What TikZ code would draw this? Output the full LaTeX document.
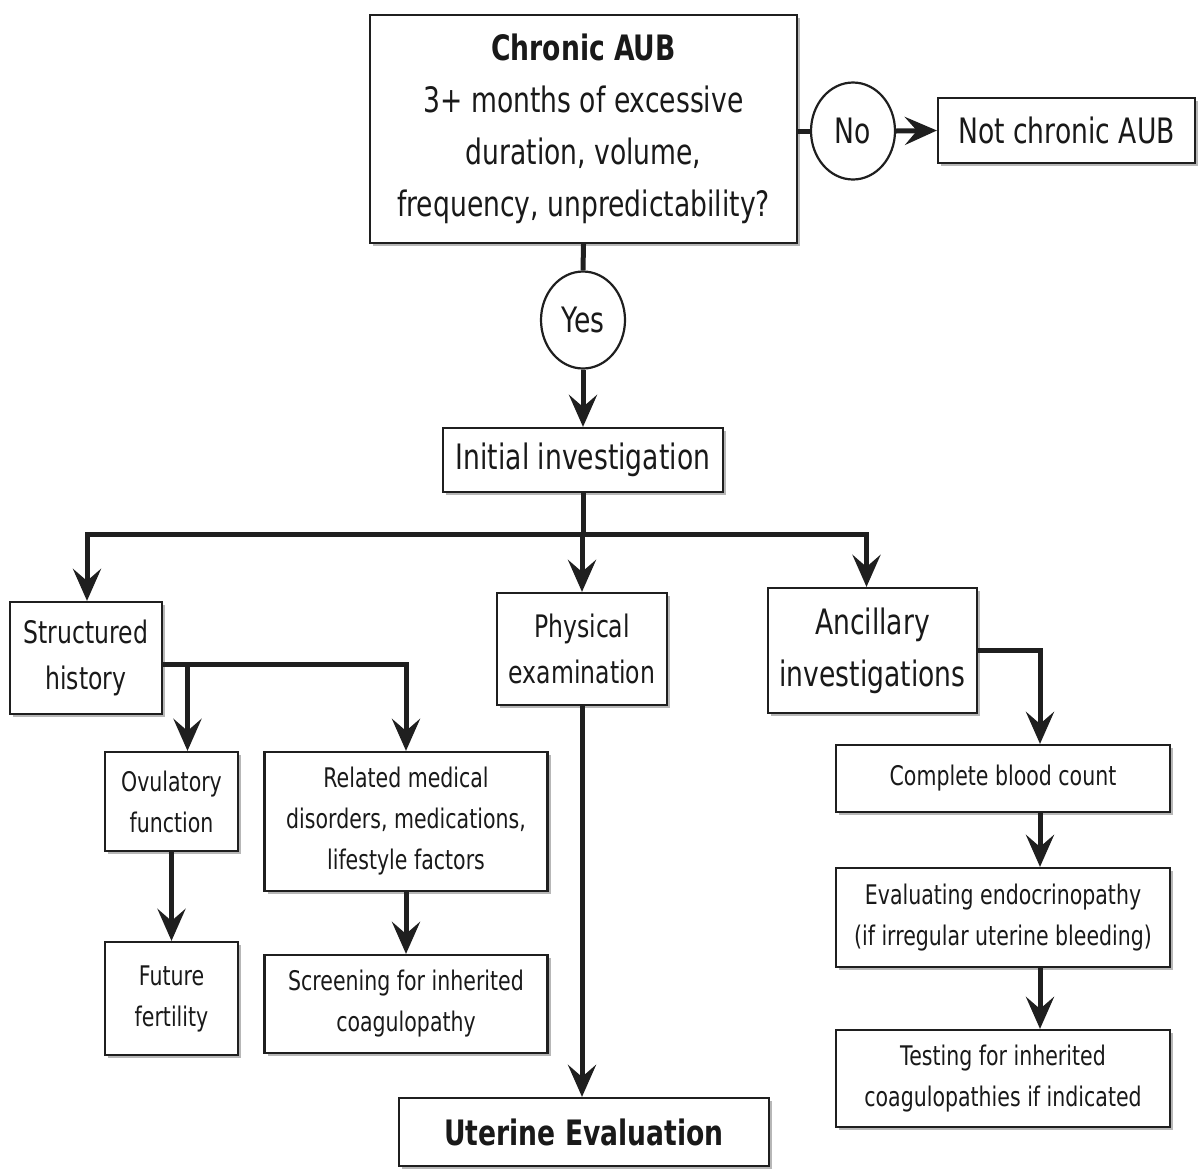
\documentclass[tikz,border=0pt]{standalone}
\usepackage{fontspec}
\setmainfont[FakeStretch=0.76]{DejaVu Sans}
\usetikzlibrary{positioning,shapes.geometric,shadows,arrows.meta}

\tikzset{
  box/.style={draw=black!88, line width=2.2pt, fill=white, align=center, inner sep=0pt, text=black!90,
    drop shadow={shadow xshift=3pt, shadow yshift=-3pt, opacity=0.4, fill=black!70}},
  oval/.style={ellipse, draw=black!88, line width=2.2pt, fill=white, inner sep=0pt, text=black!90,
    minimum width=84pt, minimum height=97pt},
  bigtxt/.style={font=\fontsize{35}{52}\selectfont},
  midtxt/.style={font=\fontsize{31}{46}\selectfont},
  smalltxt/.style={font=\fontsize{27}{41}\selectfont},
  link/.style={line width=5pt, draw=black!88},
  flow/.style={line width=5pt, draw=black!88, -{Stealth[length=32pt,width=28pt,inset=12pt]}},
}

\begin{document}
\begin{tikzpicture}[x=1pt,y=-1pt]
\useasboundingbox (0,0) rectangle (1204,1168);

%%%%%%%%%%%%%%%%%%%%%%%%%%%%%%%%%%%%%%%%%%%%%%%%%%%%%%%%%%%%%%%
% Question and first decision
%%%%%%%%%%%%%%%%%%%%%%%%%%%%%%%%%%%%%%%%%%%%%%%%%%%%%%%%%%%%%%%
\node[box, bigtxt, minimum width=427pt, minimum height=228pt] (aub) at (583.5,129)
  {\textbf{Chronic AUB}\\3+ months of excessive\\duration, volume,\\frequency, unpredictability?};
\node[oval, bigtxt] (no) at (853,131) {No};
\node[box, bigtxt, minimum width=257pt, minimum height=65pt] (notaub) at (1066.5,130.5) {Not chronic AUB};
\node[oval, bigtxt] (yes) at (583,320) {Yes};
\node[box, bigtxt, minimum width=280pt, minimum height=64pt] (init) at (583,460) {Initial investigation};

%%%%%%%%%%%%%%%%%%%%%%%%%%%%%%%%%%%%%%%%%%%%%%%%%%%%%%%%%%%%%%%
% Three branches
%%%%%%%%%%%%%%%%%%%%%%%%%%%%%%%%%%%%%%%%%%%%%%%%%%%%%%%%%%%%%%%
\node[box, midtxt, minimum width=152pt, minimum height=112pt] (hist) at (86,658) {Structured\\history};
\node[box, midtxt, minimum width=170pt, minimum height=112pt] (phys) at (582,649) {Physical\\examination};
\node[box, bigtxt, minimum width=209pt, minimum height=125pt] (ancil) at (872.5,650.5) {Ancillary\\investigations};

% History column
\node[box, smalltxt, minimum width=133pt, minimum height=99pt] (ovul) at (171.5,801.5) {Ovulatory\\function};
\node[box, smalltxt, minimum width=133pt, minimum height=113pt] (fert) at (171.5,998.5) {Future\\fertility};
\node[box, smalltxt, minimum width=283pt, minimum height=139pt] (relat) at (406,821.5)
  {Related medical\\disorders, medications,\\lifestyle factors};
\node[box, smalltxt, minimum width=283pt, minimum height=98pt] (screen) at (406,1004)
  {Screening for inherited\\coagulopathy};

% Ancillary column
\node[box, smalltxt, minimum width=334pt, minimum height=67pt] (cbc) at (1003,778.5) {Complete blood count};
\node[box, smalltxt, minimum width=334pt, minimum height=99pt] (endo) at (1003,917.5)
  {Evaluating endocrinopathy\\(if irregular uterine bleeding)};
\node[box, smalltxt, minimum width=334pt, minimum height=97pt] (coag) at (1003,1078.5)
  {Testing for inherited\\coagulopathies if indicated};

% Outcome
\node[box, bigtxt, minimum width=370pt, minimum height=68pt] (uter) at (584,1132) {\textbf{Uterine Evaluation}};

%%%%%%%%%%%%%%%%%%%%%%%%%%%%%%%%%%%%%%%%%%%%%%%%%%%%%%%%%%%%%%%
% Connectors
%%%%%%%%%%%%%%%%%%%%%%%%%%%%%%%%%%%%%%%%%%%%%%%%%%%%%%%%%%%%%%%
\draw[link] (aub.east |- no.west) -- (no.west);
\draw[flow] (no.east) -- (notaub.west);
\draw[link] (aub.south) -- (yes.north);
\draw[flow] (yes.south) -- (init.north);

\coordinate (split) at ([yshift=-41pt]init.south);
\draw[link] (init.south) -- (split);
\draw[flow] (split) -| ([xshift=1pt]hist.north);
\draw[flow] (split) -- (split -| phys.north) -- (phys.north);
\draw[flow] (split) -| ([xshift=-6pt]ancil.north);

% History branch
\coordinate (hj) at ([yshift=-6pt]hist.east);
\coordinate (ovin) at ([xshift=16pt]ovul.north);
\draw[flow] (hj) -| (relat.north);
\draw[flow] (hj -| ovin) -- (ovin);
\draw[flow] (ovul.south) -- (fert.north);
\draw[flow] (relat.south) -- (screen.north);

% Physical examination
\draw[flow] (phys.south) -- (phys.south |- uter.north);

% Ancillary branch
\coordinate (cbin) at ([xshift=37pt]cbc.north);
\draw[flow] (ancil.east) -| (cbin);
\draw[flow] ([xshift=37pt]cbc.south) -- ([xshift=37pt]endo.north);
\draw[flow] ([xshift=37pt]endo.south) -- ([xshift=37pt]coag.north);

\end{tikzpicture}
\end{document}
